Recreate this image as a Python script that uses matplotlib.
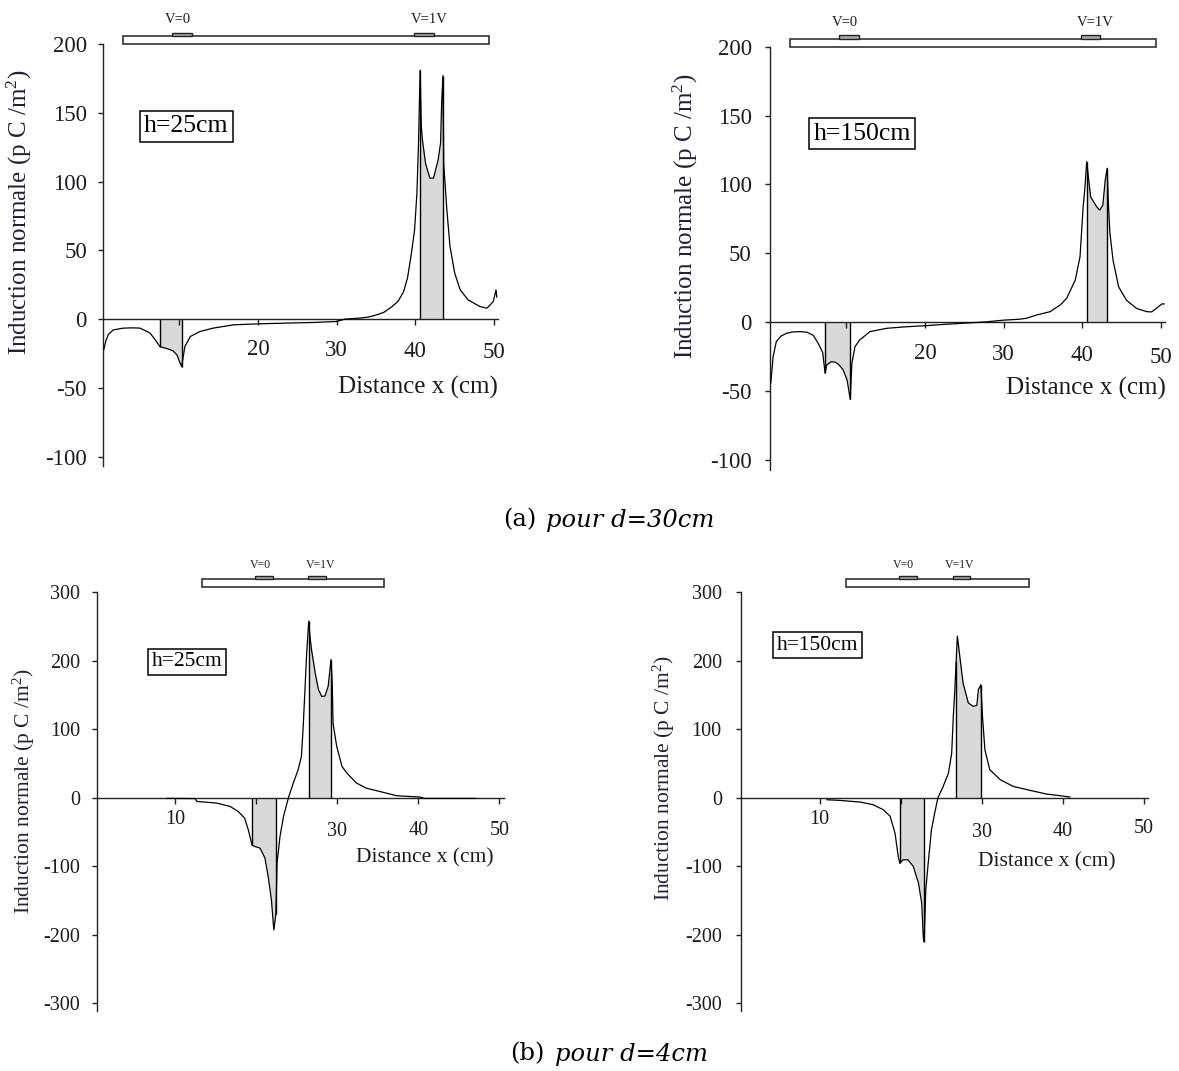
import numpy as np
import matplotlib
matplotlib.use("Agg")
import matplotlib.pyplot as plt
from matplotlib.patches import Rectangle

plt.rcParams["font.family"] = ["Liberation Serif", "DejaVu Serif"]
plt.rcParams["mathtext.fontset"] = "custom"
plt.rcParams["mathtext.rm"] = "Liberation Serif"
plt.rcParams["mathtext.it"] = "Liberation Serif:italic"

# ---------------------------------------------------------------------------
# Normal induction profiles (pC/m^2) along the plate, x in cm
# ---------------------------------------------------------------------------
# (a) d = 30 cm, h = 25 cm
x_a25 = [0.4, 0.7, 1.0, 1.6, 2.9, 4.0, 5.0, 5.9, 6.3, 7.1, 7.55, 8.5, 9.2, 9.7,
         10.1, 10.3, 10.7, 11.4, 12.6, 14.3, 16.9, 20.0, 23.2, 27.0, 30.0, 31.0,
         32.0, 33.0, 34.0, 35.0, 36.0, 37.0, 37.8, 38.5, 39.0, 39.5, 39.9, 40.2,
         40.4, 40.6, 40.75, 40.9, 41.3, 41.85, 42.3, 42.9, 43.2, 43.35, 43.5,
         43.6, 44.0, 44.4, 45.0, 45.7, 46.7, 48.2, 49.1, 49.9, 50.25, 50.35]
y_a25 = [-22, -15, -11, -7.8, -6.5, -6.3, -6.5, -9, -10.2, -16.3, -20, -21.5,
         -23, -26, -32, -34.5, -20, -12.6, -9, -6.5, -4.1, -3.4, -2.9, -2.4,
         -1.7, 0, 0.4, 0.8, 1.5, 3, 5, 9, 13, 20, 30, 48, 65, 92, 128, 181,
         140, 130, 113, 102.5, 102.5, 116, 128, 159, 177, 113, 79.5, 52.8,
         33.4, 21.3, 14, 9.2, 8, 12.8, 21.3, 16]
shade_a25 = [(7.55, 10.3), (40.6, 43.5)]

# (a) d = 30 cm, h = 150 cm
x_a150 = [0.4, 0.7, 1.1, 1.7, 2.4, 3.2, 4.1, 5.0, 5.8, 6.4, 7.0, 7.3, 7.5, 8.1,
          8.6, 9.0, 9.6, 10.1, 10.5, 10.7, 11.1, 11.7, 13.0, 15.1, 17.5, 20.3,
          22.5, 24.9, 27.8, 29.9, 32.0, 32.9, 34.2, 35.9, 37.2, 38.0, 39.1,
          39.7, 40.1, 40.3, 40.55, 40.75, 41.05, 41.8, 42.2, 42.6, 42.9, 43.15,
          43.3, 43.5, 43.9, 44.6, 45.6, 46.9, 48.2, 48.8, 49.2, 50.1, 50.4]
y_a150 = [-44, -25, -14, -10, -8, -7, -6.8, -7.2, -9.5, -15, -22, -37, -31,
          -28.6, -29, -30.5, -34.6, -42, -56, -30, -17.7, -12.8, -6.8, -4.4,
          -3.3, -2.4, -1.5, -0.7, 0.3, 1.5, 2.2, 2.9, 5.3, 7.7, 12.6, 17.4,
          30.7, 47.6, 84, 96, 116.6, 106, 91, 84, 81.4, 85, 103, 111.8, 87,
          64.6, 45, 25.8, 16, 10, 7.7, 7.5, 9.2, 13.3, 13.3]
shade_a150 = [(7.3, 10.5), (40.55, 43.15)]

# (b) d = 4 cm, h = 25 cm
x_b25 = [9.0, 12.5, 12.7, 15.15, 16.8, 17.8, 18.6, 19.05, 19.5, 19.7, 20.5,
         21.1, 21.5, 21.9, 22.2, 22.45, 22.6, 22.96, 23.4, 24.0, 24.6, 25.2,
         25.6, 25.8, 26.0, 26.25, 26.5, 26.65, 26.85, 27.3, 27.7, 28.1, 28.5,
         28.9, 29.25, 29.4, 29.5, 29.95, 30.6, 31.2, 32.4, 33.6, 35.7, 37.35,
         40.2, 40.8, 47.0]
y_b25 = [-1, -1.2, -5.4, -7.8, -12.7, -20, -29.7, -46.8, -68.7, -70.5, -73.6,
         -88, -115, -149, -193, -170, -95.5, -56.6, -27, 0, 21.4, 41, 60.4,
         99.4, 148, 211.5, 257.8, 235.8, 216, 182, 158, 148, 148.5, 162.7,
         201.8, 167.7, 109, 75, 45.8, 36, 21.4, 14, 7.8, 2.9, 1, -1, -1]
shade_b25 = [(19.5, 22.45), (26.5, 29.25)]

# (b) d = 4 cm, h = 150 cm
x_b150 = [10.9, 12.5, 15.0, 16.6, 17.85, 18.7, 19.3, 19.7, 19.9, 20.3, 20.9,
          21.55, 22.2, 22.6, 22.8, 22.9, 23.1, 23.4, 23.8, 24.2, 24.6, 25.25,
          25.9, 26.3, 26.5, 26.7, 26.85, 27.0, 27.3, 27.7, 28.35, 28.96, 29.4,
          29.6, 29.9, 30.1, 30.4, 31.0, 32.3, 33.9, 36.0, 38.0, 39.7, 40.9]
y_b150 = [-2.9, -3.9, -6.3, -10.2, -17.5, -27, -51.6, -85.8, -95.5, -90.6,
          -90.6, -100, -124.7, -154, -205, -210, -134.5, -95.5, -46.8, -22.4,
          0, 16.5, 36, 65, 119, 160, 200, 236, 206.6, 167.7, 138.5, 133.5,
          135, 158, 165, 119, 70, 41, 26.3, 16.5, 10.7, 5.4, 3, 1]
shade_b150 = [(19.9, 22.9), (26.85, 29.9)]

# Axis ticks and labels
ticks_a = [10, 20, 30, 40, 50]
ticklabels_a = ["", "20", "30", "40", "50"]
yticks_a = [-100, -50, 0, 50, 100, 150, 200]
ticks_b = [10, 20, 30, 40, 50]
ticklabels_b = ["10", "", "30", "40", "50"]
yticks_b = [-300, -200, -100, 0, 100, 200, 300]

heights = ["h=25cm", "h=150cm", "h=25cm", "h=150cm"]
ylabel = "Induction normale (p C /m$^2$)"
xlabel = "Distance x (cm)"

# ---------------------------------------------------------------------------
W, H = 1179, 1071
fig = plt.figure(figsize=(W / 100, H / 100), dpi=100)
fig.patch.set_facecolor("white")

TXT = "#1b1b24"
LBL = "#20203a"


def axes_px(left, right, top, bottom):
    return fig.add_axes([left / W, 1 - bottom / H, (right - left) / W, (bottom - top) / H])


def fpos(px, py):
    return px / W, 1 - py / H


def panel(ax, x, y, shades, xlim, ylim, xticks, xticklabels, xpads, yticks,
          fs_tick, ypad, fs_lab, ylab_px, xlab_px):
    ax.set_xlim(*xlim)
    ax.set_ylim(*ylim)
    for s in ("top", "right"):
        ax.spines[s].set_visible(False)
    ax.spines["bottom"].set_position(("data", 0))
    for s in ("left", "bottom"):
        ax.spines[s].set_linewidth(1.0)
        ax.spines[s].set_color("#222222")
    ax.patch.set_alpha(0)

    x = np.asarray(x, float)
    y = np.asarray(y, float)
    for a, b in shades:
        m = (x >= a - 1e-9) & (x <= b + 1e-9)
        ax.fill_between(x[m], 0, y[m], color="#d9d9d9", lw=0, zorder=1)
        ax.vlines([a, b], 0, np.interp([a, b], x, y), color="black", lw=1.0, zorder=2)
    ax.plot(x, y, color="black", lw=0.9, zorder=3)

    ax.set_xticks(xticks, xticklabels)
    ax.set_yticks(yticks, [str(v) for v in yticks])
    ax.tick_params(axis="x", direction="out", length=4.5, width=1.0, color="#222222",
                   labelsize=fs_tick, labelcolor=TXT)
    ax.tick_params(axis="y", direction="out", length=3.6, width=1.0, color="#222222",
                   labelsize=fs_tick, labelcolor=TXT, pad=ypad)
    for t, p in zip(ax.xaxis.get_major_ticks(), xpads):
        t.set_pad(p)

    ax.set_ylabel(ylabel, fontsize=fs_lab, color=LBL)
    ax.yaxis.set_label_coords(*fpos(*ylab_px), transform=fig.transFigure)
    ax.set_xlabel(xlabel, fontsize=fs_lab, color=TXT)
    ax.xaxis.set_label_coords(*fpos(*xlab_px), transform=fig.transFigure)


def plate(ax, x0, x1, y0, y1, electrodes, etop, labels, label_y, fs):
    ax.add_patch(Rectangle((x0, y0), x1 - x0, y1 - y0, facecolor="white",
                           edgecolor="#333333", lw=1.2, clip_on=False, zorder=5))
    for (e0, e1), (lx, txt) in zip(electrodes, labels):
        ax.add_patch(Rectangle((e0, y1), e1 - e0, etop - y1, facecolor="#a8a8a8",
                               edgecolor="#222222", lw=1.0, clip_on=False, zorder=5))
        ax.text(lx, label_y, txt, ha="center", va="center", fontsize=fs,
                color=TXT, clip_on=False)


def hbox(ax, x, y, txt, fs):
    ax.text(x, y, txt, ha="center", va="center", fontsize=fs, color="black",
            bbox=dict(boxstyle="square,pad=0.17", facecolor="white",
                      edgecolor="black", lw=1.1), zorder=6)


# --- (a) d = 30 cm ---------------------------------------------------------
ax1 = axes_px(103, 498, 44, 466.4)
panel(ax1, x_a25, y_a25, shade_a25, (0.3, 50.5), (-107, 200), ticks_a, ticklabels_a,
      [10, 10, 10.5, 11, 12], yticks_a, 16.5, 8, 18, (34, 212), (418, 376))
plate(ax1, 2.8, 49.35, 200, 205.5, [(9.1, 11.6), (39.8, 42.4)], 208.3,
      [(9.8, "V=0"), (41.8, "V=1V")], 217.5, 10.5)
hbox(ax1, 10.9, 140.3, heights[0], 18.5)

ax2 = axes_px(770, 1165, 46.7, 469.7)
panel(ax2, x_a150, y_a150, shade_a150, (0.3, 50.5), (-107, 200), ticks_a, ticklabels_a,
      [10, 10.5, 11, 12, 13], yticks_a, 16.5, 9.5, 18, (700, 216), (1086, 377))
plate(ax2, 2.83, 49.3, 200, 205.4, [(9.06, 11.6), (39.8, 42.3)], 208.2,
      [(9.8, "V=0"), (41.6, "V=1V")], 217.5, 10.5)
hbox(ax2, 12.0, 136.8, heights[1], 18.5)

# --- (b) d = 4 cm ----------------------------------------------------------
ax3 = axes_px(97, 504.2, 592.3, 1011.4)
panel(ax3, x_b25, y_b25, shade_b25, (0.4, 50.6), (-312, 300), ticks_b, ticklabels_b,
      [4.5, 12, 13, 12, 12], yticks_b, 14.5, 8.6, 15.5, (37, 791), (425, 848))
plate(ax3, 13.3, 35.8, 308, 319, [(19.9, 22.1), (26.45, 28.6)], 324.5,
      [(20.5, "V=0"), (28.0, "V=1V")], 340, 8.5)
hbox(ax3, 11.55, 198.5, heights[2], 15.5)

ax4 = axes_px(740.7, 1147.7, 592.3, 1011.4)
panel(ax4, x_b150, y_b150, shade_b150, (0.25, 50.5), (-312, 300), ticks_b, ticklabels_b,
      [4.5, 12, 14, 13, 11], yticks_b, 14.5, 10, 15.5, (677, 778), (1047, 852))
plate(ax4, 13.2, 35.8, 308, 319, [(19.8, 22.0), (26.4, 28.6)], 324.5,
      [(20.4, "V=0"), (27.3, "V=1V")], 340, 8.5)
hbox(ax4, 9.75, 222.7, heights[3], 15.5)

# --- Captions --------------------------------------------------------------
cap_font = ["DejaVu Serif"]
fig.text(*fpos(536, 526.7), "(a)", ha="right", va="baseline", fontsize=17.5,
         family=cap_font, color="black")
fig.text(*fpos(546, 526.7), "pour d=30cm", ha="left", va="baseline", fontsize=17.5,
         family=cap_font, style="italic", color="black")
fig.text(*fpos(544, 1060.7), "(b)", ha="right", va="baseline", fontsize=17.5,
         family=cap_font, color="black")
fig.text(*fpos(555, 1060.7), "pour d=4cm", ha="left", va="baseline", fontsize=17.5,
         family=cap_font, style="italic", color="black")

fig.savefig("out.png", dpi=100, facecolor="white")
